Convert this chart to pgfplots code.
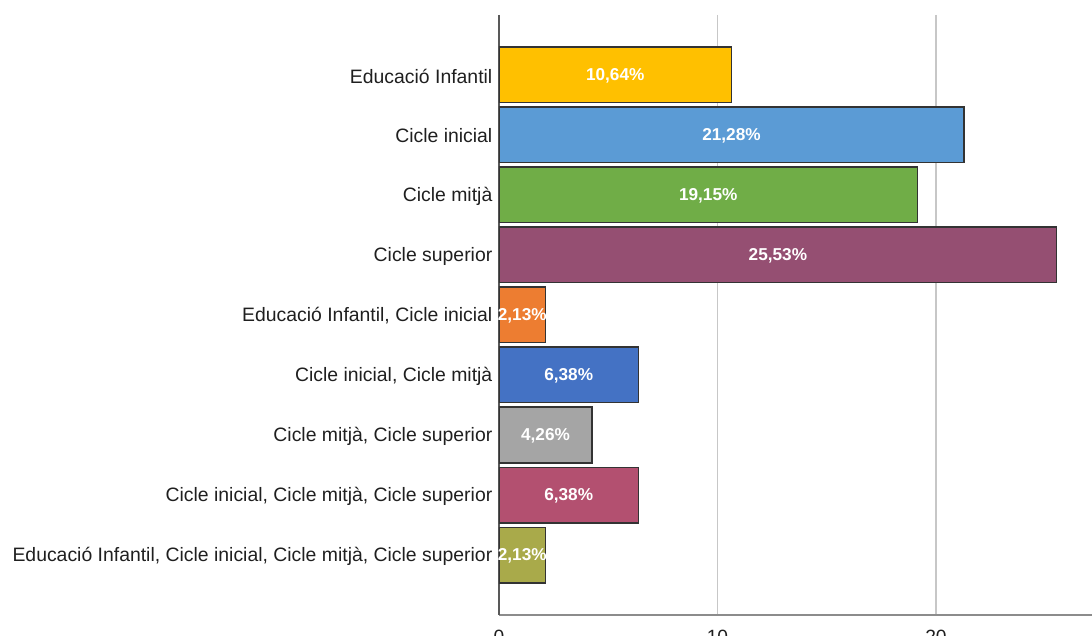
\documentclass[border=0pt]{standalone}
\usepackage{fontspec}
\setmainfont{Liberation Sans}
\usepackage{pgfplots}
\usepackage{pgfplotstable}
\pgfplotsset{compat=1.18}
\definecolor{c1}{HTML}{FFC000}
\definecolor{c2}{HTML}{5B9BD5}
\definecolor{c3}{HTML}{70AD47}
\definecolor{c4}{HTML}{954F72}
\definecolor{c5}{HTML}{ED7D31}
\definecolor{c6}{HTML}{4472C4}
\definecolor{c7}{HTML}{A5A5A5}
\definecolor{c8}{HTML}{B35070}
\definecolor{c9}{HTML}{A9AA4A}
\pgfplotstableread[col sep=comma]{
y,v,lab
0,10.64,{10,64\%}
1,21.28,{21,28\%}
2,19.15,{19,15\%}
3,25.53,{25,53\%}
4,2.13,{2,13\%}
5,6.38,{6,38\%}
6,4.26,{4,26\%}
7,6.38,{6,38\%}
8,2.13,{2,13\%}
}\data
\begin{document}
\begin{tikzpicture}
\begin{axis}[
  name=ax,
  scale only axis,
  width=296.5pt, height=300pt,
  xmin=0, xmax=27.14,
  ymin=-1, ymax=9,
  y dir=reverse,
  axis x line*=bottom,
  axis y line*=left,
  x axis line style={draw=black!45, line width=0.8pt},
  y axis line style={draw=black!65, line width=0.8pt},
  xtick={0,10,20},
  xmajorgrids,
  major grid style={draw=black!22, line width=0.7pt},
  major tick length=0pt,
  ytick={0,...,8},
  yticklabels={Educació Infantil,Cicle inicial,Cicle mitjà,Cicle superior,{Educació Infantil, Cicle inicial},{Cicle inicial, Cicle mitjà},{Cicle mitjà, Cicle superior},{Cicle inicial, Cicle mitjà, Cicle superior},{Educació Infantil, Cicle inicial, Cicle mitjà, Cicle superior}},
  yticklabel style={font=\fontsize{9.7}{11}\selectfont, text=black!88, xshift=0.2pt, yshift=-0.5pt},
  xticklabel style={font=\fontsize{9.6}{11}\selectfont, text=black!88, yshift=-4pt},
  /pgf/number format/assume math mode=true,
  bar width=0.93,
  every axis plot/.append style={xbar, bar shift=0pt, draw=black!80, line width=0.6pt},
]
\addplot[fill=c1] coordinates {(10.64,0)};
\addplot[fill=c2] coordinates {(21.28,1)};
\addplot[fill=c3] coordinates {(19.15,2)};
\addplot[fill=c4] coordinates {(25.53,3)};
\addplot[fill=c5] coordinates {(2.13,4)};
\addplot[fill=c6] coordinates {(6.38,5)};
\addplot[fill=c7] coordinates {(4.26,6)};
\addplot[fill=c8] coordinates {(6.38,7)};
\addplot[fill=c9] coordinates {(2.13,8)};
\addplot[draw=none, xbar=false, mark=none, nodes near coords,
  point meta=explicit symbolic,
  every node near coord/.style={anchor=center, text=white, inner sep=0pt, yshift=-0.5pt, font=\fontsize{8.6}{10}\selectfont\bfseries}]
  table[x expr=\thisrow{v}/2, y=y, meta=lab] {\data};
\end{axis}
\pgfresetboundingbox
\path[use as bounding box] ([shift={(-249.5pt,-10.5pt)}]ax.south west) rectangle ([shift={(0pt,7.5pt)}]ax.north east);
\end{tikzpicture}
\end{document}
